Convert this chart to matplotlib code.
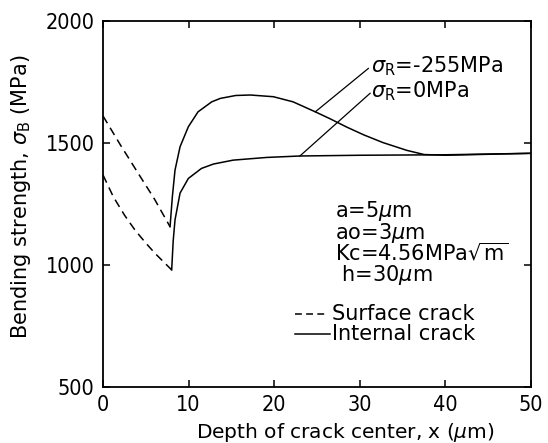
import numpy as np
import matplotlib
matplotlib.use("Agg")
import matplotlib.pyplot as plt

# Surface crack (dashed), sigma_R = -255 MPa and 0 MPa
surf_x_m255 = [0.0, 2.0, 4.0, 6.0, 7.83]
surf_m255 = [1611, 1494, 1382, 1271, 1157]
surf_x_0 = [0.0, 1.2, 2.5, 3.74, 5.0, 6.07, 8.02]
surf_0 = [1369, 1280, 1205, 1143, 1090, 1048, 980]

# Internal crack (solid)
int_x_m255 = [7.83, 8.1, 8.41, 9.0, 9.97, 11.1, 12.7, 13.7, 15.5, 17.2, 19.9,
              22.2, 24.8, 26.5, 28.5, 30.5, 32.7, 35.5, 37.5, 40.0, 45.0, 50.0]
int_m255 = [1157, 1280, 1389, 1485, 1567, 1628, 1669, 1683, 1695, 1697, 1690,
            1669, 1628, 1600, 1565, 1533, 1502, 1470, 1453, 1450, 1454, 1458]
int_x_0 = [8.02, 8.2, 8.41, 9.0, 9.97, 11.5, 12.9, 15.2, 19.1, 23.0, 30.0, 40.0, 50.0]
int_0 = [980, 1100, 1185, 1295, 1355, 1396, 1414, 1430, 1441, 1447, 1450, 1452, 1458]

stress_labels = ["$\\sigma_{\\rm R}$=-255MPa", "$\\sigma_{\\rm R}$=0MPa"]
params = ["a=5$\\mu$m", "ao=3$\\mu$m", "Kc=4.56MPa$\\sqrt{\\rm m}$", " h=30$\\mu$m"]
legend_labels = ["Surface crack", "Internal crack"]

plt.rcParams["font.family"] = "DejaVu Sans"
plt.rcParams["mathtext.fontset"] = "dejavusans"
fs = 15

fig = plt.figure(figsize=(5.48, 4.43), dpi=100)
ax = fig.add_axes([0.188, 0.1264, 0.781, 0.826])

lw = 1.1
ax.plot(surf_x_m255, surf_m255, "k--", lw=lw, dashes=(5.5, 3.5))
ax.plot(surf_x_0, surf_0, "k--", lw=lw, dashes=(5.5, 3.5))
ax.plot(int_x_m255, int_m255, "k-", lw=lw)
ax.plot(int_x_0, int_0, "k-", lw=lw)

# Leader lines and labels for residual stresses
ax.plot([24.8, 31.0], [1628, 1806], "k-", lw=0.9)
ax.plot([23.0, 31.2], [1447, 1704], "k-", lw=0.9)
ax.text(31.3, 1815, stress_labels[0], fontsize=fs, va="center", ha="left")
ax.text(31.3, 1712, stress_labels[1], fontsize=fs, va="center", ha="left")

# Parameter block
for p, yv in zip(params, [1223, 1133, 1046, 959]):
    ax.text(27.1, yv, p, fontsize=fs, va="center", ha="left")

# Hand-drawn legend
ax.plot([22.4, 26.2], [799, 799], "k--", lw=lw, dashes=(4.5, 2.8))
ax.plot([22.4, 26.5], [717, 717], "k-", lw=lw)
ax.text(26.8, 799, legend_labels[0], fontsize=fs, va="center", ha="left")
ax.text(26.8, 717, legend_labels[1], fontsize=fs, va="center", ha="left")

ax.set_xlim(0, 50)
ax.set_ylim(500, 2000)
ax.set_xticks([0, 10, 20, 30, 40, 50])
ax.set_yticks([500, 1000, 1500, 2000])
ax.tick_params(direction="in", top=True, right=True, length=5, width=1.1, pad=6)
for lab in ax.get_xticklabels() + ax.get_yticklabels():
    lab.set_fontstretch("condensed")
    lab.set_fontsize(15.5)
for s in ax.spines.values():
    s.set_linewidth(1.3)

ax.set_xlabel("Depth of crack center, x ($\\mu$m)", fontsize=14.5)
ax.set_ylabel("Bending strength, $\\sigma_{\\rm B}$ (MPa)", fontsize=fs)
ax.xaxis.set_label_coords(0.567, -0.092)
ax.yaxis.set_label_coords(-0.164, 0.519)

fig.savefig("out.png", dpi=100)
